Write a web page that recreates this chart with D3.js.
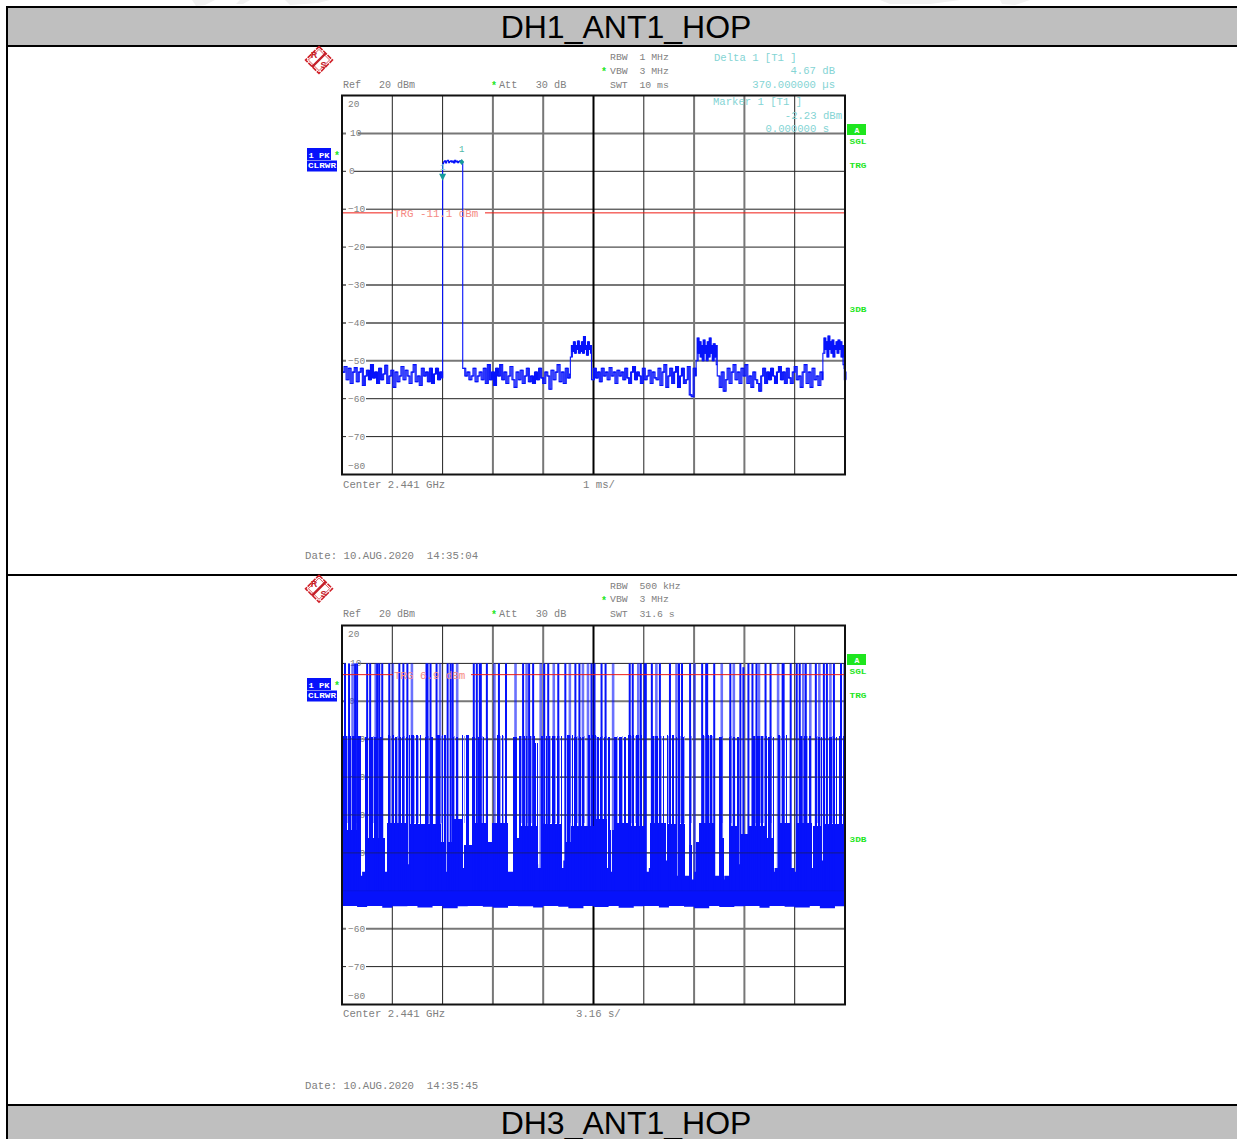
<!DOCTYPE html>
<html><head><meta charset="utf-8">
<script src="https://cdn.jsdelivr.net/npm/d3@7"></script>
<style>html,body{margin:0;padding:0;background:#fff;overflow:hidden}svg{display:block}
text{font-family:"Liberation Mono",monospace}</style></head><body>
<svg id="c" width="1237" height="1139"></svg>
<script>
// ---------- shared chart data ----------
const sweepPoints = [0, 500];
const dbmDomain = [20, -80];
const yGridValues = [10, 0, -10, -20, -30, -40, -50, -60, -70];
const yLabelValues = [10, 0, -10, -20, -30, -40, -50, -60, -70];
const xGridValues = [50, 100, 150, 200, 250, 300, 350, 400, 450];
const tableTitles = ["DH1_ANT1_HOP", "DH3_ANT1_HOP"];

// ---------- DH1 zero-span trace, dBm, as [first point, last point, values] ----------
const noiseA = [-53,-51.5,-55,-52,-56,-53,-51.8,-55.5,-53,-52,-56.5,-54,-52.5,-55,-51,-54.5,-53,-56,-52,-55,-53.5,-51.2,-56,-54,-52.5,-57,-53,-55.5,-54,-51.5,-55,-52.5,-54,-56,-53,-51,-55.5,-54,-56.5,-52,-54,-53,-55.5,-52,-56,-53.5,-52,-55,-53,-54.5];
const hopPulse = [2,2.5,2.8,2.2,2.7,2.9,2.3,2.6,2.8,2.4,2.7,2.2,2.9,2.5,2.7,2.3,2.6,2.8,2.4,2.5];
const noiseB = [-52,-54,-53,-55,-54,-52,-55.5,-54,-53,-55,-52,-56,-51,-55,-53,-56.5,-52,-54,-51,-55,-53,-56,-54,-51.5,-55,-57,-53,-55,-52.5,-56,-54,-52,-55.5,-54,-56,-53,-55,-52,-54.5,-56,-53,-54,-57.5,-52.5,-55,-53,-51,-55.5,-53,-56,-52,-54.5,-53.5];
const burstA = [-49,-46,-47.5,-45,-48,-46,-47,-44.8,-48,-46,-47.5,-45,-48,-43.6,-47,-46,-48.5,-45,-47,-46,-48];
const noiseC = [-55,-52,-54.5,-53,-55.5,-52,-54,-53,-55,-51.8,-54,-53,-56,-52.5,-54,-53,-55,-52,-54.5,-56,-53,-51.5,-55,-53,-54,-56,-52,-55,-54,-52.5,-56,-53,-54.5,-55,-52,-56.5,-53,-51,-57,-54,-52,-56,-53,-51.5,-57,-54,-52,-56,-55,-51.5,-59,-59.5,-52,-54];
const burstB = [-50,-44,-48,-45,-49,-46,-50,-44.5,-48,-46,-50,-45,-49,-44,-48,-46,-50,-45.5,-49,-46,-51];
const noiseD = [-54,-57,-53,-58,-55,-52,-56,-53,-51,-55,-53,-56,-52,-54,-51,-56,-54,-57,-53,-55,-56,-58,-54,-52,-56,-53,-55,-52,-54,-56,-53,-51.5,-55,-53,-56,-52,-54.5,-56,-53,-51.5,-55,-54,-57,-53,-51,-56,-53,-57,-52,-55,-54,-56.5,-53,-55];
const burstC = [-48,-44,-47,-45,-49,-43.5,-47,-45,-48,-44.5,-49,-46,-47,-45,-48,-44.5,-47,-45,-49,-46,-51];
const tailEnd = [-52,-55,-53,-55];
const dh1Segments = [[0,99,noiseA],[100,119,hopPulse],[120,226,noiseB],[227,247,burstA],[248,351,noiseC],[352,372,burstB],[373,477,noiseD],[478,498,burstC],[499,500,tailEnd]];
const dh1TriggerDbm = -11.1;
const dh1Marker = [100, -2.23];
const dh1Delta = [119, 2.44];

// ---------- DH3 hopping sweep ----------
const hopTallIdx = [3,7,10.5,13,15,25,28,33.5,35,37,40,47,50.5,57,61,65,69.5,84,85,88,94,97.5,105,108,110,114.5,131,134,137,138,144,151.5,156,163,172.5,180,183.5,186,190,197.5,201,205,210.5,215,222,226.5,232,236,239.5,244.5,248,251,258,262,269.5,286,289,294.5,297,301,302,308,312.5,316,326,332.5,335,338,346,350.5,358,362,363,370,377.5,386,389.5,396,399,404,408,412,414.5,421,426,433.5,438,439,446,452,455,458.5,461,465.5,471,474.5,479,482,485.5,489,496,499.5];
const hopMidRuns = [[1,18,-9.2],[23,40,-9.4],[46,51,-9],[53,65,-9.5],[66,78,-8.8],[83,90,-9.4],[95,103,-9],[110,115,-9.5],[120,126,-8.9],[130,145,-9.3],[155,166,-9],[170,173,-9.4],[176,191,-9.1],[192,195,-11],[198,218,-9.2],[224,229,-9],[231,241,-9.4],[245,253,-9],[254,266,-9.3],[271,283,-9.5],[285,298,-9],[301,303,-9.3],[308,320,-9.2],[323,330,-9],[333,342,-9.3],[346,351,-9.1],[358,372,-9],[375,391,-9.4],[393,396,-9.5],[409,422,-9.1],[424,430,-9.4],[433,442,-9],[446,448,-9.3],[456,468,-9.1],[471,492,-9.4],[495,500,-9.2]];
const hopMidGaps = [5,9,14,26,31,36,48,49,55,56,59,62,63,68,72,73,76,77,86,87,98,99,101,112,113,122,123,133,135,139,140,142,143,158,159,161,162,165,178,179,182,184,185,188,189,193,200,202,204,207,208,212,213,216,217,227,228,234,235,238,241,247,248,250,253,256,259,260,263,264,274,275,279,280,283,288,291,292,296,305,311,315,318,319,325,326,328,336,337,340,341,347,348,360,361,365,368,369,372,378,379,382,383,387,388,391,411,412,416,419,420,423,427,428,431,436,437,440,441,458,459,463,464,467,473,476,478,481,483,484,488,491,497,498];
const hopPaleIdx = [5,14,31,48,55,62,72,76,86,99,112,122,135,140,158,161,178,184,188,200,207,212,216,227,234,241,248,253,259,263,274,279,288,292,311,318,325,336,340,347,360,365,368,378,382,387,411,416,419,427,436,440,458,463,473,478,483,488,497];
const hopShoulderRuns = [[1,18,-34],[23,42,-36],[43,66,-32],[67,98,-32.5],[99,109,-37],[110,120,-31],[122,130,-38],[131,145,-32],[146,149,-37],[150,166,-32],[170,175,-36],[176,195,-33],[198,218,-32.5],[222,227,-37],[228,251,-33],[253,263,-31],[265,270,-34],[273,285,-32],[287,302,-33],[307,322,-32],[324,340,-32.5],[345,347,-38],[352,354,-37],[355,370,-32],[375,379,-36],[385,394,-33],[396,405,-35],[405,420,-33],[422,429,-36],[434,445,-32],[452,467,-32],[469,477,-33],[479,500,-32.5]];
const hopWhiteGaps = [19,20,21,22,43,44,66,104,121,166,167,168,169,195,196,220,221,268,286,303,304,305,306,323,341,342,343,344,348,349,350,351,371,372,373,374,380,381,382,383,384,395,421,430,431,432,433,446,447,448,449,450,451,468,478];
const hopBulkTop = [-42,-42,-44,-46,-45,-44,-43,-44,-45,-44,-44,-43,-44,-43,-46,-46,-47,-45,-44,-46,-45,-43,-45,-44,-44,-42,-42,-43,-45,-46,-47,-46,-46,-45,-44,-45,-43,-44,-43,-44,-46,-45,-44,-44,-42,-44,-45,-44,-42,-43,-44,-46,-44,-45,-46,-45,-43,-42,-43,-45,-45,-44,-44,-43,-42,-42,-46,-45,-46,-47,-45,-44,-44,-45,-46,-47,-46,-44,-43,-43,-45,-46,-44,-43,-45,-45,-44,-42,-43,-44,-45,-45,-46,-44,-43,-42,-44,-43,-45,-44];
const hopFloor = [-54,-54.3,-54,-54.5,-54.1,-54,-54.4,-54,-54.6,-54.1,-54,-54.2,-54.5,-54,-54.1,-54.4,-54,-54.2,-54.6,-54,-54.3,-54,-54.5,-54.1,-54,-54.4,-54,-54.2,-54.6,-54,-54.3,-54.1,-54,-54.5,-54,-54.2,-54.4,-54,-54.6,-54.1];
const hopGridShow = [[-10,0.5],[-20,0.5],[-30,0.55],[-40,0.55],[-50,0.12]];
const dh3TriggerDbm = 6.9;

// ---------- chart text ----------
const plots = [
 {top:95.5, date:"Date: 10.AUG.2020  14:35:04", rbw:"RBW  1 MHz", swt:"SWT  10 ms", span:"1 ms/", spanX:583, trgLabel:"TRG -11.1 dBm", trgX:394, gapEnd:485, nudge:0},
 {top:625.5, date:"Date: 10.AUG.2020  14:35:45", rbw:"RBW  500 kHz", swt:"SWT  31.6 s", span:"3.16 s/", spanX:576, trgLabel:"TRG 6.9 dBm", trgX:394, gapEnd:471, nudge:-1.3}
];
const markerLines = [["Delta 1 [T1 ]",714,58,"start"],["4.67 dB",835,71,"end"],["370.000000 µs",835,85,"end"],["Marker 1 [T1 ]",713,102,"start"],["-2.23 dBm",842,116,"end"],["0.000000 s",829,129,"end"]];
const gridLook = {dark:["#222",1], grey:["#777",2]};
const xLook = ["dark","dark","grey","grey","center","dark","grey","grey","dark"];
const yLook1 = ["grey","dark","dark","dark","grey","grey","grey","dark","dark"];
const yLook2 = ["dark","grey","grey","dark","dark","dark","dark","grey","dark"];

const svg = d3.select("#c");
const W = 1237;
const BLUE = "#0612fb", PALE = "#9aa0ff", GREY = "#808080", TEAL = "#84d4d4", GREEN = "#1ee61e", RED = "#f01c14", SALMON = "#f58a84";

[[192,0,215,0,205,5,196,6],[240,0,250,0,243,4,236,4],[285,0,330,0,318,3,290,5],[880,0,960,0,930,4,890,4],[1000,0,1030,0,1015,5,1002,4]].forEach(p=>
 svg.append("polygon").attr("points",p.join(",")).attr("fill","#f1f1f1"));

function hline(y,x2=W){svg.append("rect").attr("x",6).attr("y",y).attr("width",x2-6).attr("height",2).attr("fill","#000");}
svg.append("rect").attr("x",8).attr("y",8).attr("width",W-8).attr("height",37).attr("fill","#bfbfbf");
svg.append("rect").attr("x",8).attr("y",1106).attr("width",W-8).attr("height",33).attr("fill","#bfbfbf");
hline(6);hline(45);hline(574);hline(1104);
svg.append("rect").attr("x",6).attr("y",6).attr("width",2).attr("height",1133).attr("fill","#000");
[[tableTitles[0],38],[tableTitles[1],1133.5]].forEach(([t,y])=>svg.append("text").text(t).attr("x",626).attr("y",y)
  .attr("text-anchor","middle").style("font-family","'Liberation Sans',Arial,sans-serif").style("font-size","32px").attr("fill","#000"));

function label(g,t,x,y,o={}){
  const e=g.append("text").text(t).attr("x",x).attr("y",y).attr("dy","0.32em")
   .attr("text-anchor",o.anchor||"start").attr("fill",o.fill||GREY).style("font-size",(o.size||10)+"px").style("white-space","pre");
  if(o.bold)e.style("font-weight","bold");
  if(o.len)e.attr("textLength",o.len).attr("lengthAdjust","spacingAndGlyphs");
  return e;
}
function star(g,x,y){label(g,"*",x,y+1,{fill:GREEN,size:10,anchor:"middle",bold:true});}

function drawPlot(p,i){
  const dy = p.top-95.5, hd = dy + p.nudge;
  const g = svg.append("g");
  const x = d3.scaleLinear().domain(sweepPoints).range([342,845]);
  const y = d3.scaleLinear().domain(dbmDomain).range([p.top,p.top+379]);
  const lg=g.append("g").attr("transform",`translate(319,${60+hd})`);
  const lr=lg.append("g").attr("transform","rotate(45)");
  lr.append("rect").attr("x",-9.5).attr("y",-9.5).attr("width",19).attr("height",19).attr("fill","#fff").attr("stroke","#d02028").attr("stroke-width",1.6).attr("stroke-dasharray","5 1");
  lr.append("rect").attr("x",-7.5).attr("y",-7.5).attr("width",15).attr("height",15).attr("fill","none").attr("stroke","#d02028").attr("stroke-width",.7);
  lg.append("line").attr("x1",-7).attr("y1",7).attr("x2",7).attr("y2",-7).attr("stroke","#c4202a").attr("stroke-width",2.4);
  lg.append("text").text("R").attr("x",-5).attr("y",-2).attr("text-anchor","middle").attr("fill","#c4202a").style("font-size","9px").style("font-weight","bold").style("font-family","'Liberation Sans'");
  lg.append("text").text("S").attr("x",4.5).attr("y",8).attr("text-anchor","middle").attr("fill","#c4202a").style("font-size","9px").style("font-weight","bold").style("font-family","'Liberation Sans'");
  label(g,p.rbw,610,57+hd,{size:9.8});
  star(g,604,71+hd);
  label(g,"VBW  3 MHz",610,70.6+hd,{size:9.8});
  label(g,p.swt,610,85+hd,{size:9.8});
  label(g,"Ref   20 dBm",343,85+hd);
  star(g,494,85+hd);
  label(g,"Att   30 dB",499,85+hd,{size:10.2});
  label(g,"Center 2.441 GHz",343,485+hd,{size:10.65});
  label(g,p.span,p.spanX,485+hd,{size:10.65});
  label(g,p.date,305,556+dy,{size:10.7});
  g.append("rect").attr("x",307).attr("y",148+dy).attr("width",24).attr("height",12).attr("fill",BLUE);
  g.append("rect").attr("x",307).attr("y",160.5+dy).attr("width",30).attr("height",11).attr("fill",BLUE);
  label(g,"1 PK",308.5,155+dy,{fill:"#fff",size:8,bold:true,len:21});
  label(g,"CLRWR",308,166+dy,{fill:"#fff",size:7.5,bold:true,len:28});
  star(g,337,155+dy);
  g.append("rect").attr("x",847).attr("y",124+dy).attr("width",19).attr("height",11).attr("fill",GREEN);
  label(g,"A",857,130+dy,{fill:"#fff",size:8,anchor:"middle",bold:true});
  label(g,"SGL",849.5,142+dy,{fill:GREEN,size:7,bold:true,len:17});
  label(g,"TRG",849.5,166+dy,{fill:GREEN,size:7,bold:true,len:17});
  label(g,"3DB",849.5,310+dy,{fill:GREEN,size:7,bold:true,len:17});

  const gy=g.append("g").attr("transform",`translate(342,0)`)
    .call(d3.axisRight(y).tickValues(yGridValues).tickSize(503).tickFormat("").offset(0));
  gy.select(".domain").remove();
  const yLook=i?yLook2:yLook1;
  gy.selectAll(".tick line").attr("stroke",(d,k)=>gridLook[yLook[k]][0]).attr("stroke-width",(d,k)=>gridLook[yLook[k]][1]);
  const gx=g.append("g").attr("transform",`translate(0,${p.top})`)
    .call(d3.axisBottom(x).tickValues(xGridValues).tickSize(379).tickFormat("").offset(0));
  gx.select(".domain").remove();
  gx.selectAll(".tick line").attr("stroke",(d,k)=>xLook[k]==="center"?"#000":gridLook[xLook[k]][0]).attr("stroke-width",(d,k)=>xLook[k]==="center"?2:gridLook[xLook[k]][1]);
  const yl=g.append("g");
  yLabelValues.forEach(v=>{
    const t=(v<0?"\u2212":"")+Math.abs(v);
    const wd=v<0?20:(v===0?8:12);
    yl.append("rect").attr("x",346).attr("y",y(v)-2).attr("width",wd).attr("height",4).attr("fill","#fff");
    label(yl,t,348+(v<0?0:v===0?1:2),y(v),{size:9.5});
  });
  label(yl,"20",348,104+dy,{size:9.5});
  label(yl,"\u221280",348,466+dy,{size:9.5});

  if(i===0){
    const segPts=dh1Segments.map(([a,b,vals])=>vals.map((v,k)=>[a+k*(b-a)/Math.max(1,vals.length-1),v]));
    const line=d3.line().x(d=>x(d[0])).y(d=>y(d[1])).curve(d3.curveStepAfter);
    g.append("path").attr("d",line(segPts.flat())).attr("fill","none").attr("stroke",BLUE).attr("stroke-width",1.1);
    segPts.forEach(pts=>{ if(pts.length===hopPulse.length && pts[0][0]===100) return;
      g.append("path").attr("d",line(pts)).attr("fill","none").attr("stroke",BLUE).attr("stroke-width",1.1)
       .attr("transform","translate(1,0)");});
  } else {
    const gaps=new Set(hopMidGaps), white=new Set(hopWhiteGaps);
    g.selectAll("line.pale").data(hopPaleIdx.filter(n=>!white.has(n))).join("line").attr("class","pale")
      .attr("x1",d=>x(d)).attr("x2",d=>x(d)).attr("y1",y(-32)).attr("y2",y(-9.2))
      .attr("stroke",PALE).attr("stroke-width",1).attr("shape-rendering","crispEdges");
    const area=d3.area().x(d=>x(d.i)).y0(d=>y(d.f)).y1(d=>y(d.t)).curve(d3.curveStepAfter);
    const bins=hopBulkTop.map((t,k)=>({i:k*5,t,f:hopFloor[Math.min(hopFloor.length-1,Math.floor(k*5/12.5))]}));
    bins.push({i:500,t:bins[bins.length-1].t,f:bins[bins.length-1].f});
    g.append("path").attr("d",area(bins)).attr("fill",BLUE);
    const cols=new Map();
    const bump=(idx,top)=>{cols.set(idx,Math.max(cols.has(idx)?cols.get(idx):-99,top));};
    hopShoulderRuns.forEach(([a,b,t])=>{for(let n=a;n<=b;n++)if(!white.has(n))bump(n,t);});
    hopMidRuns.forEach(([a,b,t])=>{for(let n=a;n<=b;n++)if(!gaps.has(n)&&!white.has(n))bump(n,t);});
    const rows=[...cols.entries()].sort((a,b)=>a[0]-b[0]);
    g.selectAll("line.hop").data(rows).join("line").attr("class","hop")
      .attr("x1",d=>x(d[0])).attr("x2",d=>x(d[0]))
      .attr("y1",y(-50)).attr("y2",d=>y(d[1]))
      .attr("stroke",BLUE).attr("stroke-width",1).attr("shape-rendering","crispEdges");
    g.selectAll("line.tall").data(hopTallIdx).join("line").attr("class","tall")
      .attr("x1",d=>x(d)).attr("x2",d=>x(d))
      .attr("y1",y(-50)).attr("y2",d=>y(d===399?9:10))
      .attr("stroke",BLUE).attr("stroke-width",d=>Number.isInteger(d)?2:2.6)
      .attr("stroke-opacity",d=>Number.isInteger(d)?1:0.6);
    hopGridShow.forEach(([v,o])=>g.append("line").attr("x1",342).attr("x2",845).attr("y1",y(v)).attr("y2",y(v))
      .attr("stroke","#222").attr("stroke-opacity",o).attr("stroke-width",1));
  }

  const tv=i?dh3TriggerDbm:dh1TriggerDbm;
  [[342,p.trgX-1],[p.gapEnd,845]].forEach(([a,b])=>g.append("line").attr("x1",a).attr("x2",b).attr("y1",y(tv)-.5).attr("y2",y(tv)-.5).attr("stroke",RED).attr("stroke-width",1));
  label(g,p.trgLabel,p.trgX,y(tv),{fill:SALMON,size:10.8});

  g.append("rect").attr("x",342).attr("y",95.5+dy).attr("width",503).attr("height",379).attr("fill","none").attr("stroke","#111").attr("stroke-width",2);

  if(i===0){
    markerLines.forEach(([t,xx,yy,a])=>label(g,t,xx,yy,{fill:TEAL,anchor:a,size:10.6}));
    const mx=x(dh1Marker[0]),my=y(dh1Marker[1]);
    g.append("path").attr("d",d3.line()([[mx-3.5,my-6],[mx+3.5,my-6],[mx,my+1]])+"Z").attr("fill","#159a9a");
    label(g,"1",mx,my-13,{fill:TEAL,anchor:"middle",size:9});
    const dx=x(dh1Delta[0]),dyy=y(dh1Delta[1]);
    g.append("path").attr("d",d3.line()([[dx-2.5,dyy],[dx,dyy-3],[dx+2.5,dyy],[dx,dyy+3]])+"Z").attr("fill","#159a9a");
    label(g,"1",dx,dyy-13,{fill:"#4fb8a8",anchor:"middle",size:9});
  }
}
plots.forEach(drawPlot);
</script></body></html>
